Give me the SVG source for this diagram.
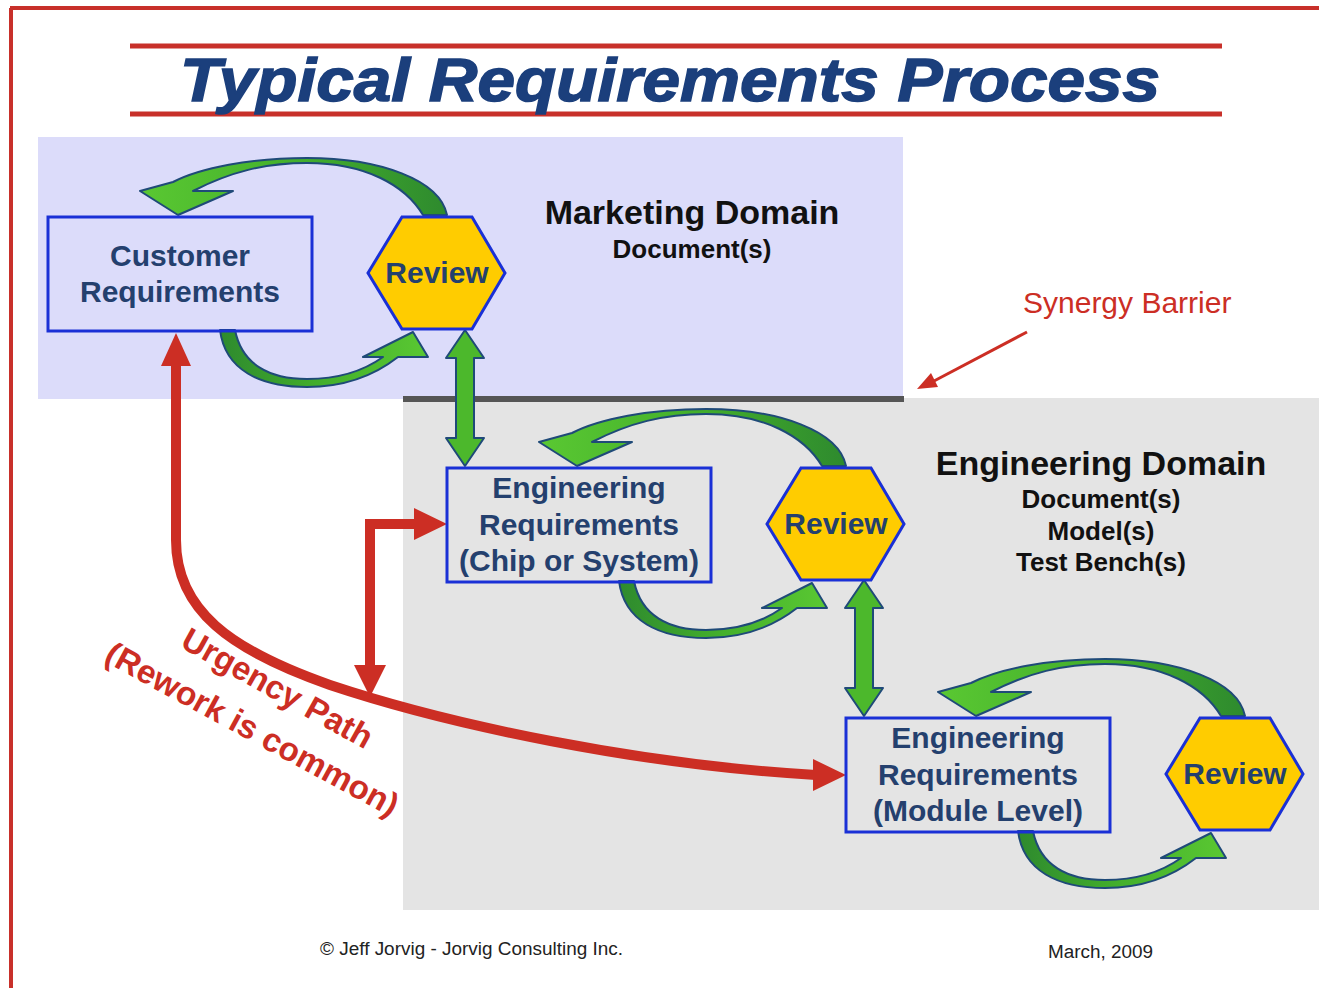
<svg xmlns="http://www.w3.org/2000/svg" xmlns:xlink="http://www.w3.org/1999/xlink" width="1319" height="988" viewBox="0 0 1319 988">
<style>
.box{fill:none;stroke:#1a30d6;stroke-width:3}
.hex{fill:#ffcc00;stroke:#1a30d6;stroke-width:3}
.lbl{font-family:"Liberation Sans",Arial,sans-serif;font-weight:bold;font-size:30px;fill:#24406e;text-anchor:middle}
.dom{font-family:"Liberation Sans",Arial,sans-serif;font-weight:bold;fill:#111;text-anchor:middle}
.green{stroke:#1f4a78;stroke-width:2;stroke-linejoin:round}
.red{fill:none;stroke:#cc2e24;stroke-width:10}
.redhead{fill:#cc2e24}
.foot{font-family:"Liberation Sans",Arial,sans-serif;font-size:18px;fill:#222}
</style>
<defs>
<linearGradient id="gTop" x1="1" y1="0" x2="0" y2="0">
<stop offset="0" stop-color="#2e8a2e"/>
<stop offset="0.5" stop-color="#44b02c"/>
<stop offset="1" stop-color="#5ac832"/>
</linearGradient>
<linearGradient id="gBot" x1="0" y1="0" x2="1" y2="0">
<stop offset="0" stop-color="#2e8a2e"/>
<stop offset="0.5" stop-color="#44b02c"/>
<stop offset="1" stop-color="#5ac832"/>
</linearGradient>
<path id="arcTop" class="green" fill="url(#gTop)" d="M447,215 C440,180 380,158 307,158 C250,158 200,168 173,182 L140,191 L178,215 L233,191 L193,191 C230,172 265,163 307,163 C365,163 405,185 423,215 Z"/>
<path id="arcBot" class="green" fill="url(#gBot)" d="M220,330 C225,370 260,387 307,387 C345,387 375,375 398,357 L428,357 L413,332 L363,357 L383,357 C362,372 335,379 307,379 C270,379 242,365 235,330 Z"/>
<path id="dbl" class="green" fill="#4cb82c" d="M465,330 L484,358 L474,358 L474,438 L484,438 L465,466 L446,438 L456,438 L456,358 L446,358 Z"/>
</defs>

<rect width="1319" height="988" fill="#ffffff"/>

<g id="frame">
<line x1="10" y1="8" x2="1319" y2="8" stroke="#c8302a" stroke-width="4"/>
<line x1="11" y1="8" x2="11" y2="988" stroke="#c8302a" stroke-width="4"/>
</g>

<g id="title">
<line x1="130" y1="46" x2="1222" y2="46" stroke="#c8302a" stroke-width="5"/>
<line x1="130" y1="114" x2="1222" y2="114" stroke="#c8302a" stroke-width="5"/>
<text x="180" y="101" textLength="980" lengthAdjust="spacingAndGlyphs" font-family="'Liberation Sans',Arial,sans-serif" font-weight="bold" font-style="italic" font-size="62" fill="#1b3f7c" stroke="#1b3f7c" stroke-width="1.5">Typical Requirements Process</text>
</g>

<g id="marketing-domain">
<rect x="38" y="137" width="865" height="262" fill="#dcdcfa"/>
<text class="dom" x="692" y="224" font-size="34">Marketing Domain</text>
<text class="dom" x="692" y="258" font-size="26">Document(s)</text>
</g>

<g id="engineering-domain">
<rect x="403" y="398" width="916" height="512" fill="#e4e4e4"/>
<rect x="403" y="396" width="501" height="6" fill="#555555"/>
<text class="dom" x="1101" y="475" font-size="34">Engineering Domain</text>
<text class="dom" x="1101" y="508" font-size="26">Document(s)</text>
<text class="dom" x="1101" y="540" font-size="26">Model(s)</text>
<text class="dom" x="1101" y="571" font-size="26">Test Bench(s)</text>
</g>

<g id="connectors">
<use xlink:href="#arcTop"/>
<use xlink:href="#arcBot"/>
<use xlink:href="#arcTop" transform="translate(399,251)"/>
<use xlink:href="#arcBot" transform="translate(399,251)"/>
<use xlink:href="#arcTop" transform="translate(798,501)"/>
<use xlink:href="#arcBot" transform="translate(798,501)"/>
<use xlink:href="#dbl"/>
<use xlink:href="#dbl" transform="translate(399,250)"/>
<path class="red" d="M176,362 L176,540 C176,610 230,650 330,685 C450,725 640,765 816,775"/>
<polygon class="redhead" points="176,333 161,366 191,366"/>
<polygon class="redhead" points="846,775 813,759 813,791"/>
<path class="red" d="M416,524 L370,524 L370,668"/>
<polygon class="redhead" points="447,524 414,508 414,540"/>
<polygon class="redhead" points="370,697 354,665 386,665"/>
<line x1="1027" y1="332" x2="934" y2="381" stroke="#cc2e24" stroke-width="3"/>
<polygon class="redhead" points="917,389 938,387 931,373"/>
</g>

<g id="customer-requirements">
<rect class="box" x="48" y="217" width="264" height="114"/>
<text class="lbl" x="180" y="266">Customer</text>
<text class="lbl" x="180" y="302">Requirements</text>
</g>

<g id="review-1">
<polygon class="hex" points="402,217 472,217 505,273 472,329 402,329 368,273"/>
<text class="lbl" x="437" y="283">Review</text>
</g>

<g id="engineering-requirements-chip">
<rect class="box" x="447" y="468" width="264" height="114"/>
<text class="lbl" x="579" y="498">Engineering</text>
<text class="lbl" x="579" y="535">Requirements</text>
<text class="lbl" x="579" y="571">(Chip or System)</text>
</g>

<g id="review-2">
<polygon class="hex" points="801,468 871,468 904,524 871,580 801,580 767,524"/>
<text class="lbl" x="836" y="534">Review</text>
</g>

<g id="engineering-requirements-module">
<rect class="box" x="846" y="718" width="264" height="114"/>
<text class="lbl" x="978" y="748">Engineering</text>
<text class="lbl" x="978" y="785">Requirements</text>
<text class="lbl" x="978" y="821">(Module Level)</text>
</g>

<g id="review-3">
<polygon class="hex" points="1200,718 1270,718 1303,774 1270,830 1200,830 1166,774"/>
<text class="lbl" x="1235" y="784">Review</text>
</g>

<g id="urgency-label" font-family="'Liberation Sans',Arial,sans-serif" font-weight="bold" font-size="33" fill="#cc2e24" text-anchor="middle">
<text transform="translate(272,698) rotate(29)">Urgency Path</text>
<text transform="translate(247,739) rotate(28.5)" textLength="328" lengthAdjust="spacingAndGlyphs">(Rework is common)</text>
</g>

<g id="synergy-label">
<text x="1023" y="313" font-family="'Liberation Sans',Arial,sans-serif" font-size="30" fill="#cc2e24">Synergy Barrier</text>
</g>

<g id="footer">
<text class="foot" x="320" y="955" textLength="303" lengthAdjust="spacingAndGlyphs">© Jeff Jorvig - Jorvig Consulting Inc.</text>
<text class="foot" x="1048" y="958" textLength="105" lengthAdjust="spacingAndGlyphs">March, 2009</text>
</g>
</svg>
